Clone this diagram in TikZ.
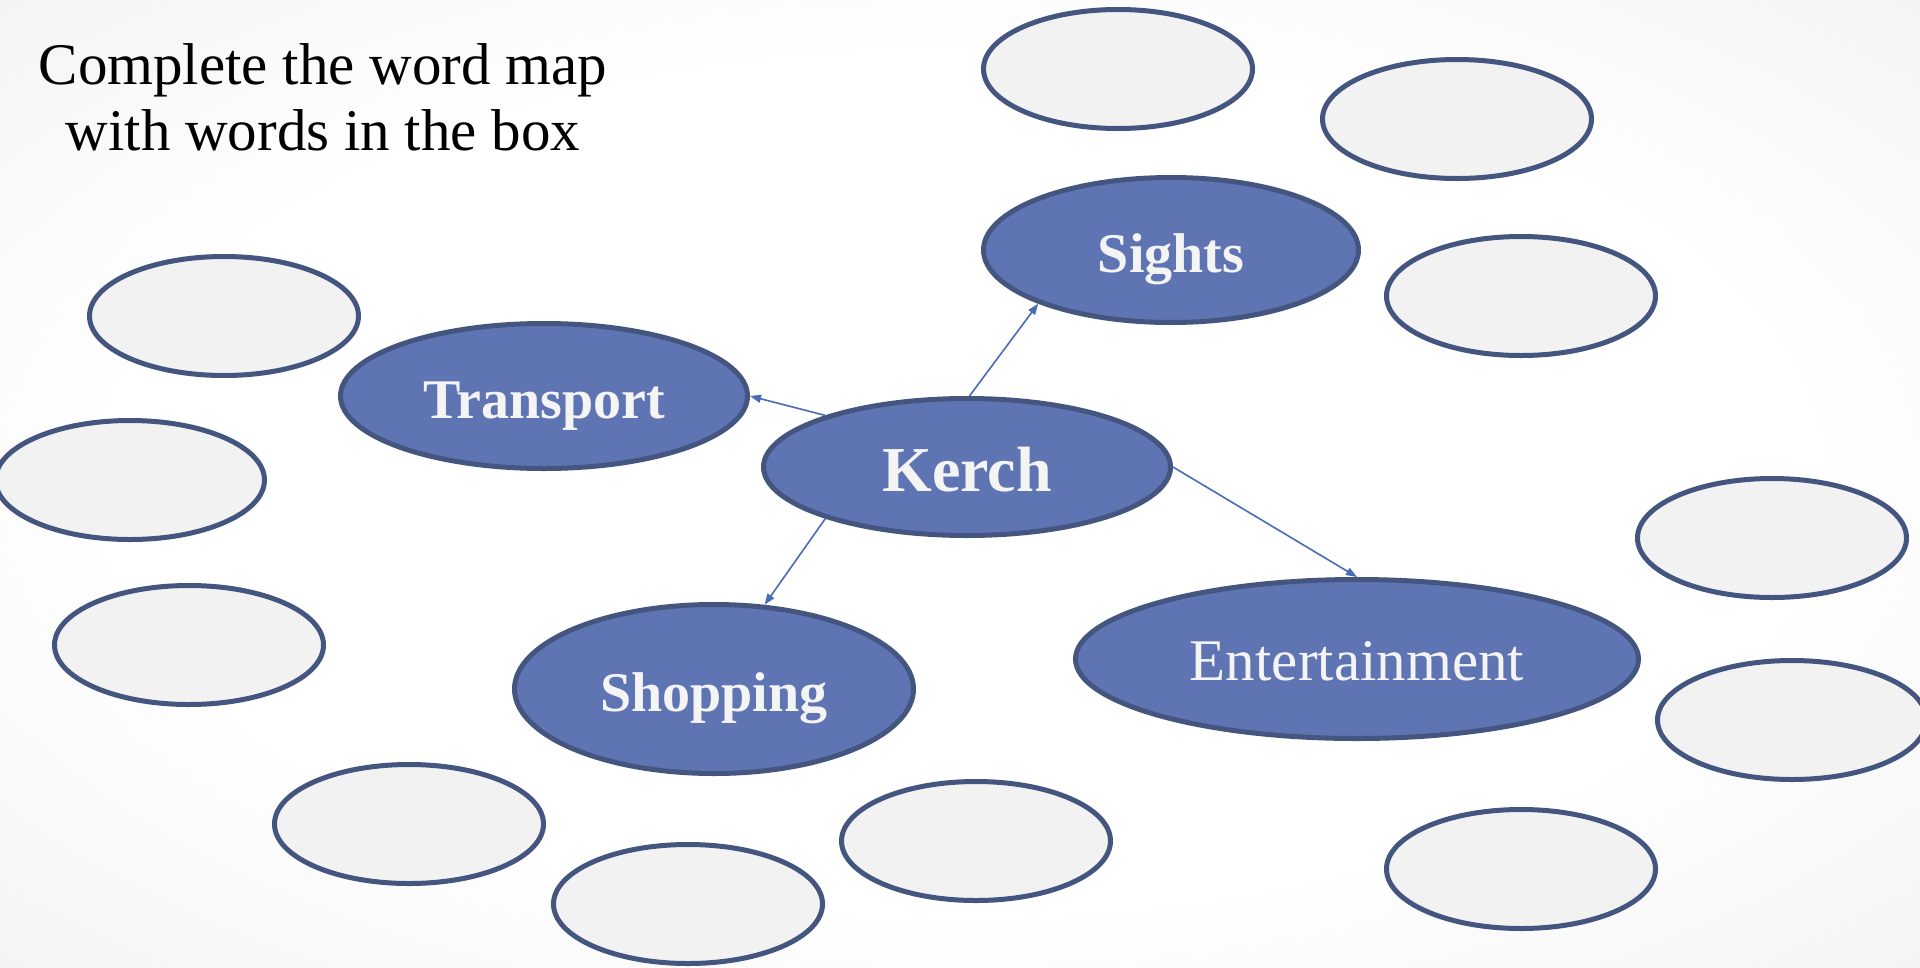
\documentclass[tikz,border=0pt]{standalone}
\usepackage{fontspec}
\setmainfont{Liberation Serif}
\usetikzlibrary{shapes.geometric,arrows.meta}
\definecolor{bluefill}{HTML}{5F75B3}
\definecolor{blueedge}{HTML}{44557F}
\definecolor{grayfill}{HTML}{F2F2F2}
\definecolor{arrowblue}{HTML}{4A6BB5}
\definecolor{txtwhite}{HTML}{F4F4F4}
\pgfdeclareradialshading{slidebg}{\pgfpoint{0bp}{0bp}}{%
  color(0bp)=(white); color(22bp)=(white); color(50bp)=(black!9); color(72bp)=(black!16)}
\begin{document}
\begin{tikzpicture}[x=1pt,y=-1pt,
  topic/.style={ellipse, draw=blueedge, fill=bluefill, line width=5pt, inner sep=0pt,
    text=txtwhite, text height=44pt, text depth=0pt, font=\fontsize{56}{60}\selectfont\bfseries},
  blank/.style={ellipse, draw=blueedge, fill=grayfill, line width=5pt, inner sep=0pt,
    minimum width=269pt, minimum height=119pt},
  link/.style={draw=arrowblue, line width=1.6pt, -{Triangle[length=11pt,width=8pt]}}]
\useasboundingbox (0,0) rectangle (1920,967);
\shade[shading=slidebg] (0,0) rectangle (1920,967);

\node[align=center, inner sep=0pt, font=\fontsize{59}{66}\selectfont] (title) at (323,97)
  {Complete the word map\\with words in the box};

% blank ellipses
\node[blank] (g1) at (1118,69) {};
\node[blank] (g2) at (1457,119) {};
\node[blank] (g3) at (1521,296) {};
\node[blank] (g4) at (224,316) {};
\node[blank] (g5) at (130,480) {};
\node[blank] (g6) at (189,645) {};
\node[blank] (g7) at (409,824) {};
\node[blank] (g8) at (688,904) {};
\node[blank] (g9) at (976,841) {};
\node[blank] (g10) at (1772,538) {};
\node[blank] (g11) at (1792,720) {};
\node[blank] (g12) at (1521,869) {};

% topic ellipses
\node[topic, minimum width=375pt, minimum height=145pt] (sights) at (1171,250) {Sights};
\node[topic, minimum width=407pt, minimum height=145pt] (transport) at (544,396) {Transport};
\node[topic, minimum width=407pt, minimum height=137pt, text height=48pt, font=\fontsize{64}{70}\selectfont\bfseries] (kerch) at (967,467) {Kerch};
\node[topic, minimum width=399pt, minimum height=169pt] (shopping) at (714,689) {Shopping};
\node[topic, minimum width=563pt, minimum height=159pt, text height=42pt, font=\fontsize{59}{64}\selectfont] (entertainment) at (1357,659) {Entertainment};

% connectors
\draw[link] (kerch.88) -- (sights.202);
\draw[link] (kerch.160) -- (transport.east);
\draw[link] (kerch.200) -- (shopping.59);
\draw[link] (kerch.east) -- (entertainment.north);
\end{tikzpicture}
\end{document}
